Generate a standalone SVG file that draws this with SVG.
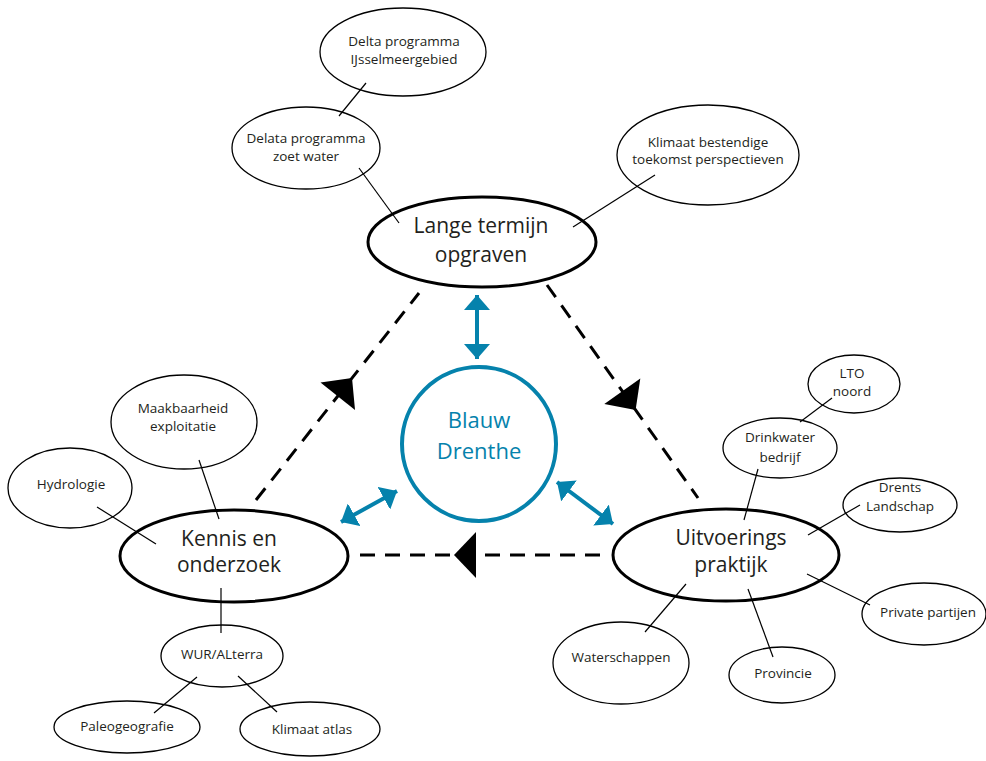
<svg xmlns="http://www.w3.org/2000/svg" width="986" height="761" viewBox="0 0 986 761">
<defs>
<style>
.sm{fill:#fff;stroke:#000;stroke-width:1.3}
.big{fill:#fff;stroke:#000;stroke-width:3}
.t{font-family:"Open Sans","Liberation Sans",sans-serif;font-size:13.5px;fill:#231f20;text-anchor:middle}
.tb{font-family:"Open Sans","Liberation Sans",sans-serif;font-size:21px;fill:#231f20;text-anchor:middle}
.tc{font-family:"Open Sans","Liberation Sans",sans-serif;font-size:22px;fill:#0582ac;text-anchor:middle}
.ln{stroke:#000;stroke-width:1.2;fill:none}
.dash{stroke:#000;stroke-width:3;fill:none;stroke-dasharray:15 10}
.blue{stroke:#0582ac;stroke-width:4;fill:none;marker-start:url(#bh);marker-end:url(#bh)}
.ah{fill:#000}
</style>
<marker id="bh" markerUnits="userSpaceOnUse" markerWidth="15" markerHeight="26" viewBox="0 0 15 26" refX="15" refY="13" orient="auto-start-reverse">
<path d="M0,0 L15,13 L0,26 z" fill="#0582ac"/>
</marker>
</defs>

<g id="n-delta-ijssel"><ellipse class="sm" cx="403" cy="52" rx="83" ry="44"/><text class="t" x="404" y="46">Delta programma</text><text class="t" x="404" y="64">IJsselmeergebied</text></g>
<g id="n-delta-zoet"><ellipse class="sm" cx="306" cy="148" rx="74" ry="41"/><text class="t" x="306" y="143">Delata programma</text><text class="t" x="306" y="161">zoet water</text></g>
<g id="n-klimaat-best"><ellipse class="sm" cx="708" cy="155" rx="91" ry="50"/><text class="t" x="708" y="147">Klimaat bestendige</text><text class="t" x="708" y="164">toekomst perspectieven</text></g>
<g id="n-lange"><ellipse class="big" cx="482" cy="242" rx="114" ry="45"/><text class="tb" x="481" y="233">Lange termijn</text><text class="tb" x="481" y="262">opgraven</text></g>
<g id="n-blauw"><circle cx="479" cy="444" r="77" fill="#fff" stroke="#0582ac" stroke-width="4"/><text class="tc" x="479" y="428">Blauw</text><text class="tc" x="479" y="459">Drenthe</text></g>
<g id="n-maakbaar"><ellipse class="sm" cx="184" cy="422" rx="73" ry="47"/><text class="t" x="183" y="413">Maakbaarheid</text><text class="t" x="183" y="431">exploitatie</text></g>
<g id="n-hydro"><ellipse class="sm" cx="70" cy="488" rx="62" ry="40"/><text class="t" x="71" y="489">Hydrologie</text></g>
<g id="n-kennis"><ellipse class="big" cx="234" cy="556" rx="114" ry="46"/><text class="tb" x="229" y="546">Kennis en</text><text class="tb" x="229" y="572">onderzoek</text></g>
<g id="n-wur"><ellipse class="sm" cx="222" cy="656" rx="61" ry="31"/><text class="t" x="222" y="659">WUR/ALterra</text></g>
<g id="n-paleo"><ellipse class="sm" cx="127" cy="727" rx="73" ry="26"/><text class="t" x="127" y="731">Paleogeografie</text></g>
<g id="n-klimaat-atlas"><ellipse class="sm" cx="310" cy="729" rx="70" ry="27"/><text class="t" x="312" y="734">Klimaat atlas</text></g>
<g id="n-uitvoering"><ellipse class="big" cx="726" cy="555" rx="113" ry="46"/><text class="tb" x="731" y="545">Uitvoerings</text><text class="tb" x="731" y="572">praktijk</text></g>
<g id="n-lto"><ellipse class="sm" cx="854" cy="384" rx="46" ry="29"/><text class="t" x="852" y="378">LTO</text><text class="t" x="852" y="396">noord</text></g>
<g id="n-drinkwater"><ellipse class="sm" cx="780" cy="448" rx="57" ry="30"/><text class="t" x="780" y="442">Drinkwater</text><text class="t" x="780" y="462">bedrijf</text></g>
<g id="n-drents"><ellipse class="sm" cx="900" cy="505" rx="57" ry="27"/><text class="t" x="900" y="492">Drents</text><text class="t" x="900" y="511">Landschap</text></g>
<g id="n-private"><ellipse class="sm" cx="924" cy="614" rx="62" ry="31"/><text class="t" x="928" y="617">Private partijen</text></g>
<g id="n-provincie"><ellipse class="sm" cx="782" cy="675" rx="53" ry="28"/><text class="t" x="783" y="678">Provincie</text></g>
<g id="n-waterschappen"><ellipse class="sm" cx="621" cy="663" rx="68" ry="41"/><text class="t" x="621" y="662">Waterschappen</text></g>

<g id="connectors">
<line class="ln" x1="339" y1="116" x2="366" y2="83"/>
<line class="ln" x1="359" y1="168" x2="399" y2="223"/>
<line class="ln" x1="655" y1="175" x2="573" y2="227"/>
<line class="ln" x1="199" y1="460" x2="219" y2="519"/>
<line class="ln" x1="97" y1="507" x2="156" y2="544"/>
<line class="ln" x1="221" y1="588" x2="221" y2="633"/>
<line class="ln" x1="197" y1="677" x2="154" y2="713"/>
<line class="ln" x1="238" y1="676" x2="277" y2="712"/>
<line class="ln" x1="832" y1="398" x2="800" y2="422"/>
<line class="ln" x1="758" y1="469" x2="744" y2="520"/>
<line class="ln" x1="860" y1="505" x2="808" y2="535"/>
<line class="ln" x1="807" y1="574" x2="870" y2="605"/>
<line class="ln" x1="748" y1="589" x2="773" y2="657"/>
<line class="ln" x1="686" y1="584" x2="645" y2="632"/>

<line class="dash" x1="256" y1="500" x2="419" y2="293"/>
<polygon class="ah" points="352,378 355,410 320.5,382.5"/>
<line class="dash" x1="547" y1="285" x2="698" y2="498"/>
<polygon class="ah" points="635.6,410 640.3,378.5 604.3,403.9"/>
<line class="dash" x1="600" y1="555" x2="357" y2="555"/>
<polygon class="ah" points="454,555 476,532 476,578"/>

<line class="blue" x1="477" y1="295" x2="477" y2="359"/>
<line class="blue" x1="341" y1="522" x2="397" y2="491"/>
<line class="blue" x1="557" y1="482" x2="613" y2="524"/>
</g>
</svg>
